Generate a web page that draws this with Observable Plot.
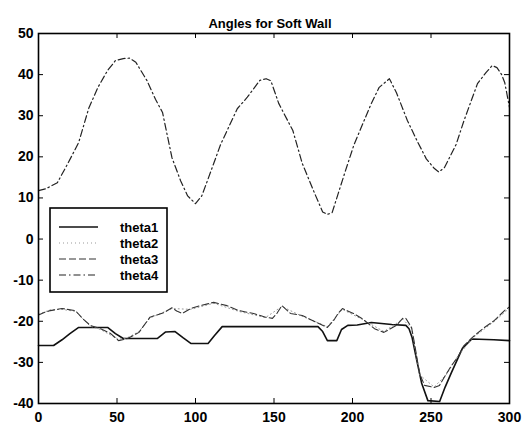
<!DOCTYPE html>
<html>
<head>
<meta charset="utf-8">
<script src="https://cdn.jsdelivr.net/npm/d3@7"></script>
<script src="https://cdn.jsdelivr.net/npm/@observablehq/plot@0.6"></script>
<style>
  html, body { margin: 0; padding: 0; background: #fff; }
  #chart svg { display: block; }
</style>
</head>
<body>
<div id="chart"></div>
<script>
// Joint angles (degrees) against time step, soft-wall run
const title = "Angles for Soft Wall";
const seriesNames = ["theta1", "theta2", "theta3", "theta4"];
const xTicks = [0, 50, 100, 150, 200, 250, 300];
const yTicks = [-40, -30, -20, -10, 0, 10, 20, 30, 40, 50];

const theta1X = [0, 9.6, 15, 20, 25.6, 44, 49, 54, 75.6, 78, 81, 87, 92, 97, 108, 112, 117, 178, 181, 184, 190, 193, 197, 203, 212, 225, 234, 236, 238, 241, 244, 248, 255.5, 259, 263, 270, 276, 290, 300];
const theta1Y = [-25.9, -25.9, -24.5, -23, -21.5, -21.5, -23, -24.2, -24.2, -23.5, -22.6, -22.5, -24, -25.4, -25.4, -23.5, -21.3, -21.3, -22.5, -24.7, -24.7, -22, -21, -20.9, -20.3, -20.8, -21, -21.8, -24, -29.6, -35, -39.3, -39.5, -36, -32.5, -26.6, -24.3, -24.5, -24.7];

const theta2X = [0, 7.6, 15, 23.5, 33, 39.5, 51, 56.7, 64, 71, 85, 97, 111.6, 127.6, 144.6, 155, 168, 184, 193.6, 206, 220, 232, 237.6, 242.7, 252, 259.9, 266.9, 276.4, 290.4, 300];
const theta2Y = [-18.3, -17.2, -17.1, -17.6, -21.2, -22, -24.4, -24, -22.5, -19.2, -16.9, -17.1, -15.6, -17.6, -19.1, -16.4, -18.8, -21.3, -17.1, -19.5, -22.5, -19.5, -21.7, -33, -36, -32.9, -28.6, -24.1, -20, -16.8];

const theta3X = [0, 4, 7.6, 15, 23.5, 28, 33, 39.5, 46, 51, 56.7, 64, 71, 80, 85, 88, 91.5, 97, 103, 111.6, 120, 127.6, 137, 144.6, 149, 152, 155, 160.5, 168, 174.5, 184, 188, 191, 193.6, 200.6, 206, 214, 220, 228, 232, 234, 237.6, 239.5, 242.7, 245.9, 252, 255.4, 259.9, 263, 266.9, 271, 276.4, 284, 290.4, 296.8, 300];
const theta3Y = [-18.5, -17.8, -17.4, -16.9, -17.4, -19.3, -21, -21.8, -23, -24.7, -24.2, -22.7, -19, -17.9, -16.7, -17.5, -18.1, -16.9, -16.2, -15.4, -16.2, -17.4, -18.1, -19, -19.3, -18, -16.2, -18.1, -18.6, -19.8, -21.5, -19.8, -18, -16.9, -18.1, -19.3, -21.8, -22.7, -21, -19.3, -19.3, -21.5, -25.4, -32.7, -35.6, -36.1, -35.6, -32.7, -30.8, -28.8, -25.9, -23.9, -21.5, -19.8, -17.4, -16.5];

const theta4X = [0, 4.5, 12, 19, 25.6, 32, 38, 44, 49, 54, 58, 62, 69, 74.5, 79, 85, 90.5, 95, 100, 104, 107.6, 116, 126.6, 133, 141, 145, 148, 153, 162, 168, 176, 181, 184, 187, 195, 201, 212, 217, 223.5, 228, 235, 241, 247, 252, 255, 258.6, 266, 271, 279.6, 285, 289, 292, 295, 297, 299, 300];
const theta4Y = [11.8, 12.2, 13.7, 18.6, 23.5, 31.8, 37, 41, 43.4, 43.9, 44, 43, 38.6, 34, 30.8, 19.8, 14.2, 10.5, 8.6, 10.5, 14.2, 23, 31.7, 34.5, 38.6, 39, 38.5, 33, 26.4, 18.4, 11, 6.6, 6, 6.4, 16, 23, 33, 36.9, 39, 35.6, 28.8, 24, 19.5, 17.2, 16.3, 17.4, 23, 28.8, 37.8, 40.5, 42.2, 41.7, 40, 38, 34, 32];

const rows = (xs, ys) => xs.map((x, i) => ({x, y: ys[i]}));
const series = {
  theta1: rows(theta1X, theta1Y),
  theta2: rows(theta2X, theta2Y),
  theta3: rows(theta3X, theta3Y),
  theta4: rows(theta4X, theta4Y)
};

// line appearance per series (solid, dotted, dashed, dash-dot)
const styles = {
  theta1: {stroke: "#111", strokeWidth: 1.6, dash: null},
  theta2: {stroke: "#999", strokeWidth: 1, dash: "1,3"},
  theta3: {stroke: "#333", strokeWidth: 1.1, dash: "7,3"},
  theta4: {stroke: "#222", strokeWidth: 1.2, dash: "7,3,1.5,3"}
};

const W = 529, H = 429;
const mL = 38, mR = 20, mT = 33, mB = 26;
const innerW = W - mL - mR, innerH = H - mT - mB;
const tick = 5;
const fontFamily = "'Liberation Sans', Arial, sans-serif";

const lineMarks = seriesNames.map(name => Plot.line(series[name], {
  x: "x", y: "y",
  stroke: styles[name].stroke,
  strokeWidth: styles[name].strokeWidth,
  strokeDasharray: styles[name].dash
}));

const chart = Plot.plot({
  width: W, height: H,
  marginLeft: mL, marginRight: mR, marginTop: mT, marginBottom: mB,
  x: {domain: [0, 300], label: null},
  y: {domain: [-40, 50], label: null},
  style: {fontFamily, fontSize: "14px", fontWeight: "bold", background: "#fff", color: "#000"},
  marks: [
    Plot.axisX(xTicks, {tickSize: 0, tickPadding: 9, fontSize: 14, label: null, tickFormat: d => String(d)}),
    Plot.axisY(yTicks, {tickSize: 0, tickPadding: 5, fontSize: 14, label: null, tickFormat: d => String(d)}),
    // inward tick marks on all four sides
    Plot.tickX(xTicks, {x: d => d, insetTop: innerH - tick, stroke: "#000"}),
    Plot.tickX(xTicks, {x: d => d, insetBottom: innerH - tick, stroke: "#000"}),
    Plot.tickY(yTicks, {y: d => d, insetRight: innerW - tick, stroke: "#000"}),
    Plot.tickY(yTicks, {y: d => d, insetLeft: innerW - tick, stroke: "#000"}),
    ...lineMarks,
    Plot.frame({stroke: "#000", strokeWidth: 1.6}),
    Plot.text([title], {text: d => d, frameAnchor: "top", dy: -15, dx: -4, fontSize: 13, fontWeight: "bold"})
  ]
});

document.getElementById("chart").append(chart);

// legend box inside the axes, upper left of the lower traces
const svg = d3.select(chart);
const lg = svg.append("g").attr("transform", "translate(50,208)");
lg.append("rect").attr("width", 117).attr("height", 84)
  .attr("fill", "#fff").attr("stroke", "#000").attr("stroke-width", 1.6);
seriesNames.forEach((name, i) => {
  const yy = 19 + i * 16;
  lg.append("line").attr("x1", 9).attr("x2", 48).attr("y1", yy).attr("y2", yy)
    .attr("stroke", styles[name].stroke).attr("stroke-width", styles[name].strokeWidth)
    .attr("stroke-dasharray", styles[name].dash);
  lg.append("text").attr("x", 70).attr("y", yy).attr("dy", "0.35em")
    .attr("text-anchor", "start")
    .attr("font-family", fontFamily)
    .attr("font-size", 13).attr("font-weight", "bold").text(name);
});
</script>
</body>
</html>
